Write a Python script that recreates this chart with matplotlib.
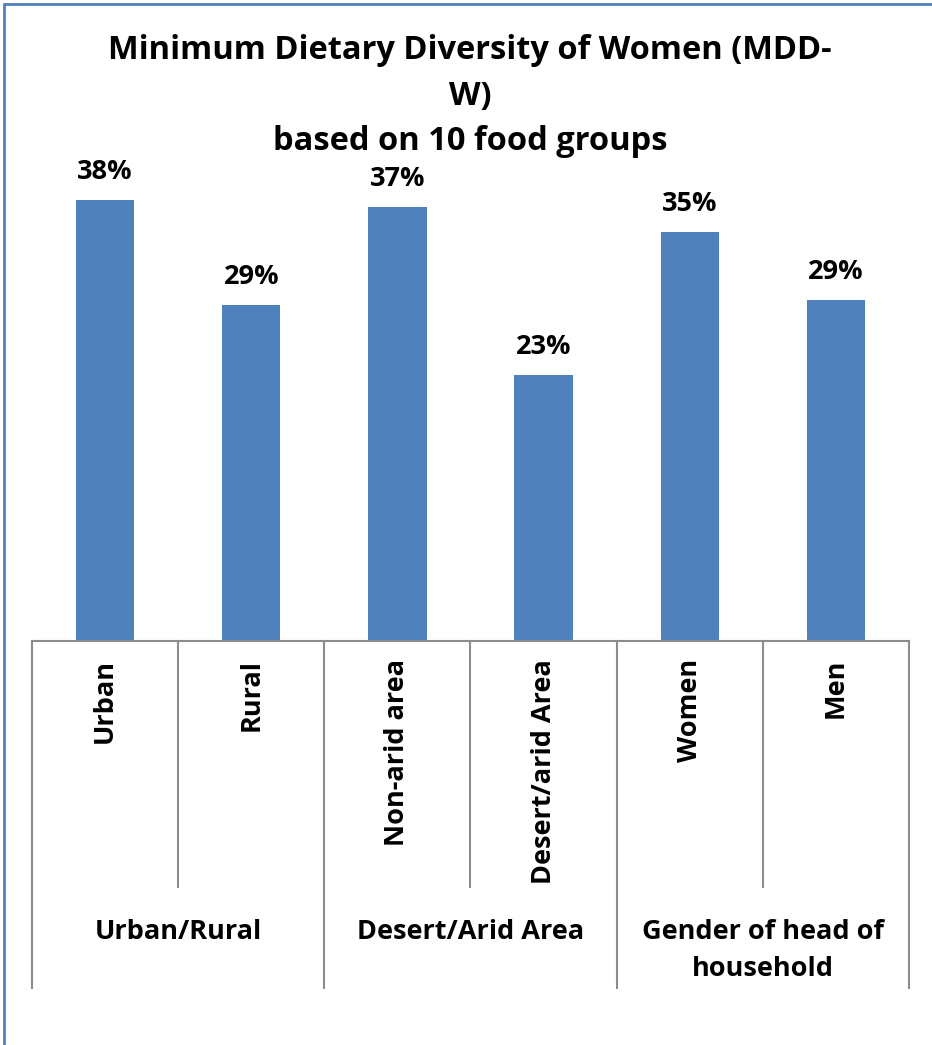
import matplotlib
matplotlib.use("Agg")
import matplotlib.pyplot as plt
from matplotlib.patches import Rectangle

categories = ["Urban", "Rural", "Non-arid area", "Desert/arid Area", "Women", "Men"]
values = [38.0, 29.0, 37.4, 22.9, 35.3, 29.4]
groups = ["Urban/Rural", "Desert/Arid Area", "Gender of head of\nhousehold"]
group_size = [2, 2, 2]
title = "Minimum Dietary Diversity of Women (MDD-\nW)\nbased on 10 food groups"

W, H = 932, 1045
plt.rcParams["font.family"] = ["Open Sans", "DejaVu Sans"]
plt.rcParams["font.weight"] = "bold"

fig = plt.figure(figsize=(W / 100, H / 100), dpi=100)
x0, x1, ybase, ytop = 32, 909, 641, 177
ax = fig.add_axes([x0 / W, (H - ybase) / H, (x1 - x0) / W, (ybase - ytop) / H])
axh = ybase - ytop

def ay(py):
    # pixel row below the baseline -> axes y
    return -(py - ybase) / axh

bar_color = "#4F81BD"
grey = "#8C8C8C"
fs = 19.5
xs = list(range(len(categories)))
ax.bar(xs, values, width=0.4, color=bar_color)
ax.set_xlim(-0.5, len(categories) - 0.5)
ax.set_ylim(0, 40)
for s in ["top", "right", "left"]:
    ax.spines[s].set_visible(False)
ax.spines["bottom"].set_color(grey)
ax.spines["bottom"].set_linewidth(1.5)
ax.set_xticks([])
ax.set_yticks([])

for x, v in zip(xs, values):
    ax.annotate(f"{v:.0f}%", (x, v), xytext=(0, 28), textcoords="offset pixels",
                ha="center", va="center", fontsize=fs, fontweight="bold")

tr = ax.get_xaxis_transform()
for x, c in zip(xs, categories):
    ax.text(x, ay(659), c, rotation=90, ha="center", va="top",
            fontsize=fs, fontweight="bold", transform=tr)

# separators
bounds = [-0.5]
for n in group_size:
    bounds.append(bounds[-1] + n)
inner = [b + 0.5 for b in range(len(categories) - 1) if b + 0.5 not in bounds]
for b in inner:
    ax.plot([b, b], [0, ay(887)], color=grey, lw=1.5, transform=tr, clip_on=False)
for b in bounds:
    ax.plot([b, b], [0, ay(988)], color=grey, lw=1.5, transform=tr, clip_on=False)

for i, g in enumerate(groups):
    cx = (bounds[i] + bounds[i + 1]) / 2
    ax.text(cx, ay(919), g, ha="center", va="top", fontsize=fs,
            fontweight="bold", linespacing=1.55, transform=tr)

fig.text(470 / W, 1 - 34 / H, title, ha="center", va="top", fontsize=23.5,
         fontweight="bold", linespacing=1.5)

fig.patches.append(Rectangle((3.5 / W, -0.5), 2, 1.5 - 3.5 / H, transform=fig.transFigure,
                             fill=False, edgecolor=bar_color, lw=2, figure=fig))

fig.savefig("out.png", dpi=100)
